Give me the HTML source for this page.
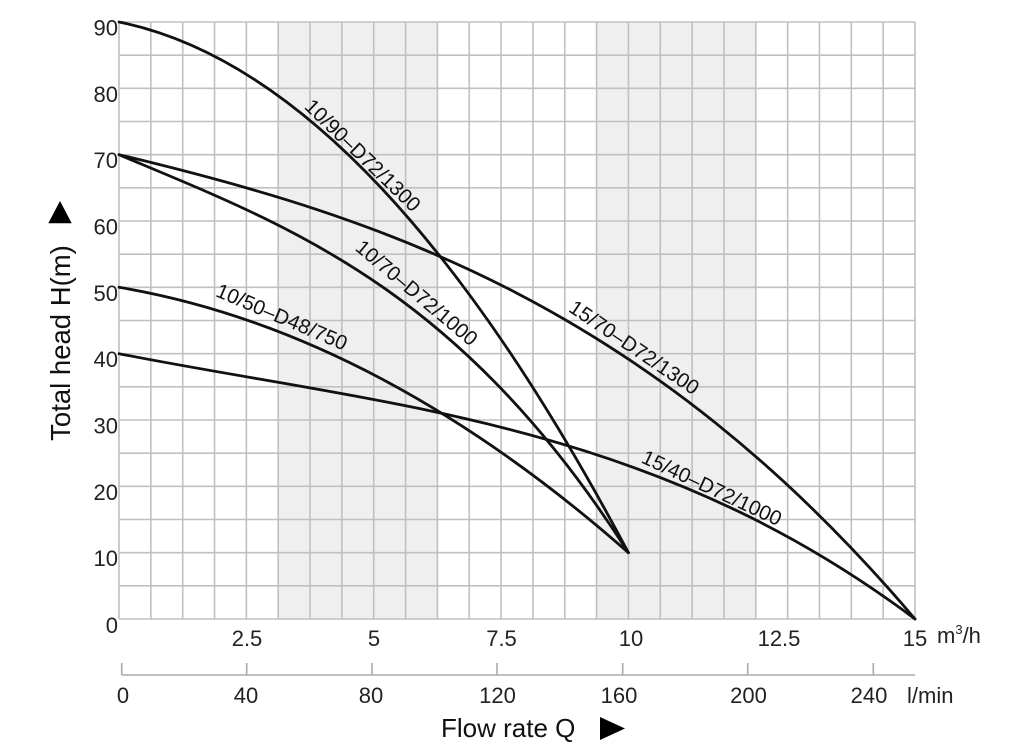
<!DOCTYPE html>
<html><head><meta charset="utf-8"><style>
html,body{margin:0;padding:0;background:#fff;}
svg{display:block;font-family:"Liberation Sans",Arial,sans-serif;}
</style></head><body>
<svg width="1024" height="746" viewBox="0 0 1024 746" xmlns="http://www.w3.org/2000/svg">
<rect x="0" y="0" width="1024" height="746" fill="#fff"/>
<rect x="278.2" y="22" width="159.2" height="597" fill="#efefef"/>
<rect x="596.6" y="22" width="159.2" height="597" fill="#efefef"/>
<g stroke="#c0c0c0" stroke-width="1.6" fill="none">
<line x1="119" y1="22" x2="119" y2="619"/><line x1="150.84" y1="22" x2="150.84" y2="619"/><line x1="182.68" y1="22" x2="182.68" y2="619"/><line x1="214.52" y1="22" x2="214.52" y2="619"/><line x1="246.36" y1="22" x2="246.36" y2="619"/><line x1="278.2" y1="22" x2="278.2" y2="619"/><line x1="310.04" y1="22" x2="310.04" y2="619"/><line x1="341.88" y1="22" x2="341.88" y2="619"/><line x1="373.72" y1="22" x2="373.72" y2="619"/><line x1="405.56" y1="22" x2="405.56" y2="619"/><line x1="437.4" y1="22" x2="437.4" y2="619"/><line x1="469.24" y1="22" x2="469.24" y2="619"/><line x1="501.08" y1="22" x2="501.08" y2="619"/><line x1="532.92" y1="22" x2="532.92" y2="619"/><line x1="564.76" y1="22" x2="564.76" y2="619"/><line x1="596.6" y1="22" x2="596.6" y2="619"/><line x1="628.44" y1="22" x2="628.44" y2="619"/><line x1="660.28" y1="22" x2="660.28" y2="619"/><line x1="692.12" y1="22" x2="692.12" y2="619"/><line x1="723.96" y1="22" x2="723.96" y2="619"/><line x1="755.8" y1="22" x2="755.8" y2="619"/><line x1="787.64" y1="22" x2="787.64" y2="619"/><line x1="819.48" y1="22" x2="819.48" y2="619"/><line x1="851.32" y1="22" x2="851.32" y2="619"/><line x1="883.16" y1="22" x2="883.16" y2="619"/><line x1="915" y1="22" x2="915" y2="619"/>
<line x1="119" y1="22" x2="915" y2="22"/><line x1="119" y1="55.17" x2="915" y2="55.17"/><line x1="119" y1="88.33" x2="915" y2="88.33"/><line x1="119" y1="121.5" x2="915" y2="121.5"/><line x1="119" y1="154.67" x2="915" y2="154.67"/><line x1="119" y1="187.83" x2="915" y2="187.83"/><line x1="119" y1="221" x2="915" y2="221"/><line x1="119" y1="254.17" x2="915" y2="254.17"/><line x1="119" y1="287.33" x2="915" y2="287.33"/><line x1="119" y1="320.5" x2="915" y2="320.5"/><line x1="119" y1="353.67" x2="915" y2="353.67"/><line x1="119" y1="386.83" x2="915" y2="386.83"/><line x1="119" y1="420" x2="915" y2="420"/><line x1="119" y1="453.17" x2="915" y2="453.17"/><line x1="119" y1="486.33" x2="915" y2="486.33"/><line x1="119" y1="519.5" x2="915" y2="519.5"/><line x1="119" y1="552.67" x2="915" y2="552.67"/><line x1="119" y1="585.83" x2="915" y2="585.83"/><line x1="119" y1="619" x2="915" y2="619"/>
</g>
<g stroke="#111" stroke-width="2.8" fill="none" stroke-linecap="round">
<path d="M119,22 Q375,74 628.4,552.7"/>
<path d="M119,154.7 C288.7,226.1 458.3,286.8 628.4,552.7"/>
<path d="M119,287.3 C288.7,316 458.3,403 628.4,552.7"/>
<path d="M119,154.7 C384.3,218 649.7,306 915,619"/>
<path d="M119,353.7 C384.3,406 649.7,420 915,619"/>
</g>
<g fill="#111" font-size="20.5" text-anchor="middle">
<text x="363" y="155" dy="0.36em" transform="rotate(44 363 155)">10/90–D72/1300</text>
<text x="417" y="292.5" dy="0.36em" transform="rotate(40 417 292.5)">10/70–D72/1000</text>
<text x="282" y="316.5" dy="0.36em" transform="rotate(23 282 316.5)">10/50–D48/750</text>
<text x="634.5" y="347" dy="0.36em" transform="rotate(34 634.5 347)">15/70–D72/1300</text>
<text x="712" y="487.5" dy="0.36em" transform="rotate(25 712 487.5)">15/40–D72/1000</text>
</g>
<g fill="#222" font-size="22" text-anchor="end">
<text x="118" y="35.5">90</text>
<text x="118" y="101.8">80</text>
<text x="118" y="168.2">70</text>
<text x="118" y="234.5">60</text>
<text x="118" y="300.8">50</text>
<text x="118" y="367.2">40</text>
<text x="118" y="433.5">30</text>
<text x="118" y="499.8">20</text>
<text x="118" y="566.2">10</text>
<text x="118" y="633">0</text>
</g>
<g fill="#222" font-size="22" text-anchor="middle">
<text x="247" y="646">2.5</text>
<text x="374" y="646">5</text>
<text x="501.5" y="646">7.5</text>
<text x="631" y="646">10</text>
<text x="779" y="646">12.5</text>
<text x="915" y="646">15</text>
<text x="123" y="703">0</text>
<text x="246" y="703">40</text>
<text x="371" y="703">80</text>
<text x="497.5" y="703">120</text>
<text x="619" y="703">160</text>
<text x="748.5" y="703">200</text>
<text x="869" y="703">240</text>
</g>
<text x="937" y="643" font-size="22" fill="#222">m<tspan font-size="13" dy="-9">3</tspan><tspan dy="9">/h</tspan></text>
<text x="907" y="703" font-size="22" fill="#222">l/min</text>
<g stroke="#aaa" stroke-width="1.6" fill="none">
<line x1="121.7" y1="675" x2="915" y2="675"/>
<line x1="121.7" y1="663" x2="121.7" y2="675"/>
<line x1="246.7" y1="663" x2="246.7" y2="675"/>
<line x1="372" y1="663" x2="372" y2="675"/>
<line x1="497" y1="663" x2="497" y2="675"/>
<line x1="622.7" y1="663" x2="622.7" y2="675"/>
<line x1="747.7" y1="663" x2="747.7" y2="675"/>
<line x1="873.3" y1="663" x2="873.3" y2="675"/>
</g>
<text x="441" y="737" font-size="26" fill="#111">Flow rate Q</text>
<polygon points="600,717 625,728.5 600,740" fill="#000"/>
<text x="70" y="343" font-size="27.5" fill="#111" text-anchor="middle" transform="rotate(-90 70 343)">Total head H(m)</text>
<polygon points="60,201 71.7,223.3 48.3,223.3" fill="#000"/>
</svg>
</body></html>
